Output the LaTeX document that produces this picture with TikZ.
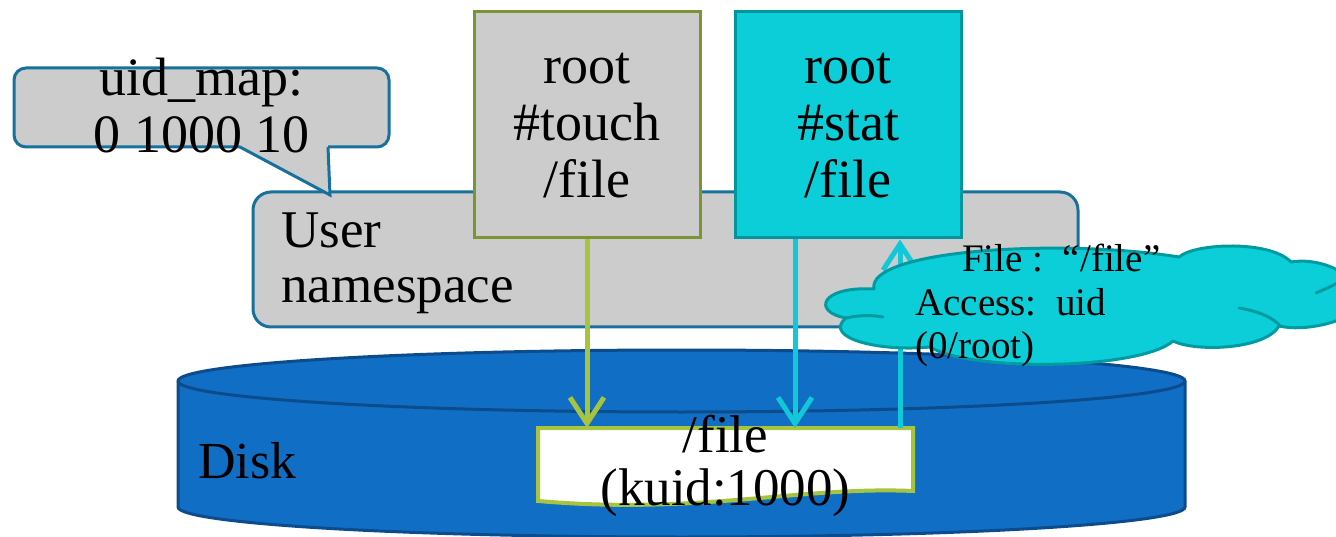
\documentclass[tikz,border=0pt]{standalone}
\usepackage{fontspec}
\setmainfont{Liberation Serif}
\usetikzlibrary{arrows.meta}
\definecolor{boxgray}{RGB}{204,204,204}
\definecolor{nsblue}{RGB}{24,112,156}
\definecolor{olive}{RGB}{122,150,52}
\definecolor{cyanfill}{RGB}{12,206,216}
\definecolor{cyanedge}{RGB}{0,150,158}
\definecolor{cyanline}{RGB}{16,200,215}
\definecolor{limeline}{RGB}{166,196,62}
\definecolor{diskblue}{RGB}{16,110,196}
\definecolor{diskedge}{RGB}{12,76,140}
\definecolor{cloudedge}{RGB}{0,155,160}
\begin{document}
\begin{tikzpicture}[x=1pt,y=1pt,
  bigtext/.style={font=\fontsize{54}{57}\selectfont},
  cmdbox/.style={minimum width=226pt, minimum height=226pt, line width=3pt, inner sep=0pt},
  cmdtext/.style={bigtext, align=center, inner sep=0pt, anchor=base},
  flow/.style={line width=5pt, -{Straight Barb[length=26pt,width=34pt]}},
  ]
\useasboundingbox (0,0) rectangle (1336,-537);
\clip (0,0) rectangle (1336,-537);

% user namespace
\node[draw=nsblue, fill=boxgray, line width=3pt, rounded corners=18pt,
  minimum width=825pt, minimum height=135pt] (ns) at (665.5,-259.5) {};
\node[anchor=base west, align=left, inner sep=0pt, font=\fontsize{53}{55}\selectfont]
  (nstext) at (281,-303) {User\\namespace};

% uid_map callout
\draw[nsblue, fill=boxgray, line width=3pt, rounded corners=12pt] (14,-68) rectangle (389,-147);
\fill[boxgray] (241,-144) -- (327.6,-144) -- (328,-147) -- (330,-195) -- (240,-147) -- cycle;
\draw[nsblue, line width=3pt] (240,-147) -- (330,-195) -- (328,-147);
\node[cmdtext] (map) at (201.5,-153) {uid\_map:\\0 1000 10};

% processes
\node[cmdbox, draw=olive, fill=boxgray] (touch) at (587,-125) {};
\node[cmdtext] (touchtext) at (587,-198) {root\\\#touch\\/file};
\node[cmdbox, draw=cyanedge, fill=cyanfill] (stat) at (848,-125) {};
\node[cmdtext] (stattext) at (848,-198) {root\\\#stat\\/file};

% disk
\filldraw[fill=diskblue, draw=diskedge, line width=3pt]
  (178,-381) -- (178,-507) arc[start angle=180, end angle=360, x radius=503.5pt, y radius=30pt]
  -- (1185,-381) arc[start angle=0, end angle=180, x radius=503.5pt, y radius=31pt] -- cycle;
\draw[diskedge, line width=3pt] (178,-381) arc[start angle=180, end angle=360, x radius=503.5pt, y radius=31pt];
\node[anchor=base west, font=\fontsize{52}{55}\selectfont, inner sep=0pt] (disk) at (198,-478) {Disk};

% file stored on disk
\filldraw[fill=white, draw=limeline, line width=4pt]
  (538,-428) -- (913,-428) -- (913,-491) .. controls (800,-486) and (700,-515) .. (538,-501) -- cycle;
\coordinate (filetop) at (725.5,-428);
\node[anchor=base, align=center, inner sep=0pt, font=\fontsize{53}{53}\selectfont]
  (file) at (725.5,-505) {/file\\(kuid:1000)};

% accesses
\draw[flow, limeline] (touch.south) -- (touch.south |- filetop);
\draw[flow, cyanline] ([xshift=-53pt]stat.south) -- ([xshift=-53pt]stat.south |- filetop);
\draw[flow, cyanline] ([xshift=52pt]stat.south |- filetop) -- ([xshift=52pt]stat.south);

% access note cloud
\filldraw[fill=cyanfill, draw=cloudedge, line width=3pt, line join=round]
  (846,-318) .. controls (812,-312) and (820,-286) .. (874,-289)
  .. controls (866,-250) and (1060,-238) .. (1179,-257)
  .. controls (1195,-243) and (1270,-240) .. (1291,-262)
  .. controls (1315,-258) and (1350,-268) .. (1360,-295)
  -- (1360,-308)
  .. controls (1345,-322) and (1305,-332) .. (1279,-326)
  .. controls (1265,-350) and (1195,-352) .. (1173,-341)
  .. controls (1140,-370) and (970,-372) .. (930,-347)
  .. controls (880,-352) and (822,-338) .. cycle;
\draw[cloudedge, line width=3pt, line cap=round]
  (846,-318) .. controls (860,-315) and (872,-315) .. (883,-317);
\draw[cloudedge, line width=3pt, line cap=round]
  (1239,-308) .. controls (1258,-311) and (1274,-318) .. (1280,-326);
\draw[cloudedge, line width=3pt, line cap=round]
  (1316,-293) .. controls (1325,-289) and (1333,-286) .. (1342,-280);
\node[anchor=base west, align=left, font=\fontsize{39}{43}\selectfont, inner sep=0pt]
  (info) at (915,-358) {\hspace*{47pt}File :\ \ “/file”\\Access:\ \ uid\\(0/root)};
\end{tikzpicture}
\end{document}
